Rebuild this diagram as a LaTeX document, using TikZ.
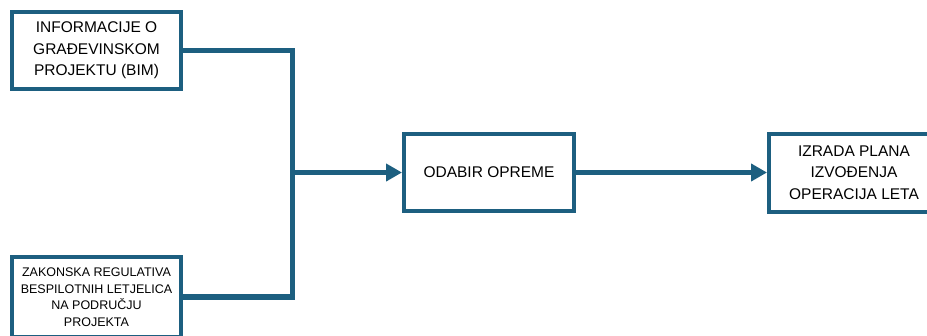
\documentclass[tikz,border=0pt]{standalone}
\usepackage{fontspec}
\setmainfont{Liberation Sans}
\usetikzlibrary{arrows.meta}
\definecolor{flow}{RGB}{29,95,128}
\begin{document}
\begin{tikzpicture}[x=1pt,y=-1pt,
  box/.style={draw=flow, line width=4pt, fill=white, align=center, inner sep=0pt, text=black},
  bigtext/.style={font=\fontsize{15.5}{21.5}\selectfont},
  smalltext/.style={font=\fontsize{12.5}{16.5}\selectfont},
  conn/.style={draw=flow, line width=5.5pt, line join=miter},
  arr/.style={conn, -{Triangle[length=16pt,width=17pt]}}]
\useasboundingbox (0,0) rectangle (927,335);
\node[box, bigtext, minimum width=169pt, minimum height=77pt] (b1) at (96.5,50.5) {INFORMACIJE O\\GRAĐEVINSKOM\\PROJEKTU (BIM)};
\node[box, smalltext, minimum width=169pt, minimum height=80pt] (b2) at (96.5,297) {ZAKONSKA REGULATIVA\\BESPILOTNIH LETJELICA\\NA PODRUČJU\\PROJEKTA};
\node[box, bigtext, minimum width=170pt, minimum height=77pt] (b3) at (489,172.5) {ODABIR OPREME};
\node[box, bigtext, minimum width=170pt, minimum height=78pt] (b4) at (854,172.5) {IZRADA PLANA\\IZVOĐENJA\\OPERACIJA LETA};
\coordinate (j) at (292.5,172.5);
\draw[conn] (b1.east) -| (j);
\draw[conn] (b2.east) -| (j);
\draw[arr] (j) -- (b3.west);
\draw[arr] (b3.east) -- (b4.west);
\end{tikzpicture}
\end{document}
